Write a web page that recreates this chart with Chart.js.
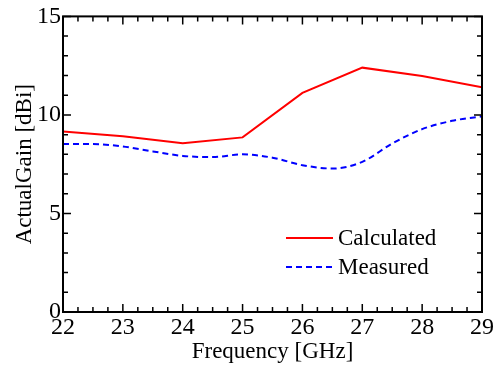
<!DOCTYPE html>
<html>
<head>
<meta charset="utf-8">
<script src="https://cdn.jsdelivr.net/npm/chart.js@4"></script>
<style>
    html, body { margin: 0; padding: 0; background: #ffffff; }
    #wrap { width: 497px; height: 366px; }
</style>
</head>
<body>
<div id="wrap"><canvas id="gainChart" width="497" height="366"></canvas></div>
<script>
// Frequency points (GHz)
const freqs = [22, 23, 24, 25, 26, 27, 28, 29];
const calculated = [9.16, 8.92, 8.56, 8.86, 11.12, 12.4, 11.98, 11.41];

const measuredFreqs = [22, 22.5, 23, 23.5, 24, 24.5, 25, 25.5, 26, 26.5, 27, 27.5, 28, 28.5, 29];
const measured = [8.52, 8.52, 8.4, 8.15, 7.92, 7.86, 8.0, 7.83, 7.45, 7.28, 7.62, 8.55, 9.28, 9.7, 9.93];

const seriesNames = ['Calculated', 'Measured'];
const xTicks = [22, 23, 24, 25, 26, 27, 28, 29];
const yTicks = [0, 5, 10, 15];

const serif = "'Liberation Serif', 'Times New Roman', serif";

// Frame, inward ticks on all four sides, and the legend inside the plot
const framePlugin = {
    id: 'frame',
    afterDraw(chart) {
        const ctx = chart.ctx;
        const area = chart.chartArea;
        const xs = chart.scales.x;
        const ys = chart.scales.y;
        ctx.save();
        ctx.strokeStyle = '#000000';
        ctx.lineWidth = 1.5;
        // minor/major ticks on x
        for (let v = 22; v <= 29.001; v += 0.25) {
            const px = xs.getPixelForValue(v);
            const len = Math.abs(v - Math.round(v)) < 0.01 ? 8 : 5;
            ctx.beginPath();
            ctx.moveTo(px, area.bottom); ctx.lineTo(px, area.bottom - len);
            ctx.moveTo(px, area.top); ctx.lineTo(px, area.top + len);
            ctx.stroke();
        }
        for (let v = 0; v <= 15; v += 1) {
            const py = ys.getPixelForValue(v);
            const len = v % 5 === 0 ? 8 : 5;
            ctx.beginPath();
            ctx.moveTo(area.left, py); ctx.lineTo(area.left + len, py);
            ctx.moveTo(area.right, py); ctx.lineTo(area.right - len, py);
            ctx.stroke();
        }
        ctx.lineWidth = 2;
        ctx.strokeRect(area.left, area.top, area.right - area.left, area.bottom - area.top);

        // legend
        const datasets = chart.data.datasets;
        ctx.font = '23px ' + serif;
        ctx.textBaseline = 'middle';
        datasets.forEach((ds, i) => {
            const y = 238 + i * 29;
            ctx.beginPath();
            ctx.strokeStyle = ds.borderColor;
            ctx.lineWidth = ds.borderWidth;
            ctx.setLineDash(ds.borderDash || []);
            ctx.moveTo(286, y); ctx.lineTo(333, y);
            ctx.stroke();
            ctx.setLineDash([]);
            ctx.fillStyle = '#000000';
            ctx.fillText(ds.label, 338, y + 1);
        });
        ctx.restore();
    }
};

const ctx = document.getElementById('gainChart').getContext('2d');
const gainChart = new Chart(ctx, {
    type: 'line',
    data: {
        datasets: [
            {
                label: seriesNames[0],
                data: freqs.map((f, i) => ({ x: f, y: calculated[i] })),
                borderColor: '#ff0000',
                backgroundColor: 'transparent',
                borderWidth: 2,
                pointRadius: 0,
                tension: 0
            },
            {
                label: seriesNames[1],
                data: measuredFreqs.map((f, i) => ({ x: f, y: measured[i] })),
                borderColor: '#0000ff',
                backgroundColor: 'transparent',
                borderWidth: 2,
                borderDash: [6, 4],
                pointRadius: 0,
                cubicInterpolationMode: 'monotone'
            }
        ]
    },
    options: {
        responsive: false,
        animation: false,
        layout: { padding: { top: 14, right: 15, left: 0, bottom: 0 } },
        plugins: {
            legend: { display: false },
            tooltip: { enabled: false }
        },
        scales: {
            x: {
                type: 'linear',
                min: 22,
                max: 29,
                afterBuildTicks: s => { s.ticks = xTicks.map(v => ({ value: v })); },
                afterFit: s => { s.height = 54; },
                grid: { display: false, drawTicks: false },
                border: { display: false },
                ticks: {
                    color: '#000000',
                    font: { family: serif, size: 24 },
                    padding: 1,
                    maxRotation: 0
                },
                title: {
                    display: true,
                    text: 'Frequency [GHz]',
                    color: '#000000',
                    font: { family: serif, size: 23 },
                    padding: { top: 0, bottom: 0 }
                }
            },
            y: {
                min: 0,
                max: 15,
                afterBuildTicks: s => { s.ticks = yTicks.map(v => ({ value: v })); },
                afterFit: s => { s.width = 63; },
                grid: { display: false, drawTicks: false },
                border: { display: false },
                ticks: {
                    color: '#000000',
                    font: { family: serif, size: 24 },
                    padding: 2
                },
                title: {
                    display: true,
                    text: 'ActualGain [dBi]',
                    color: '#000000',
                    font: { family: serif, size: 23 },
                    padding: { top: 11, bottom: 0 }
                }
            }
        }
    },
    plugins: [framePlugin]
});
</script>
</body>
</html>
